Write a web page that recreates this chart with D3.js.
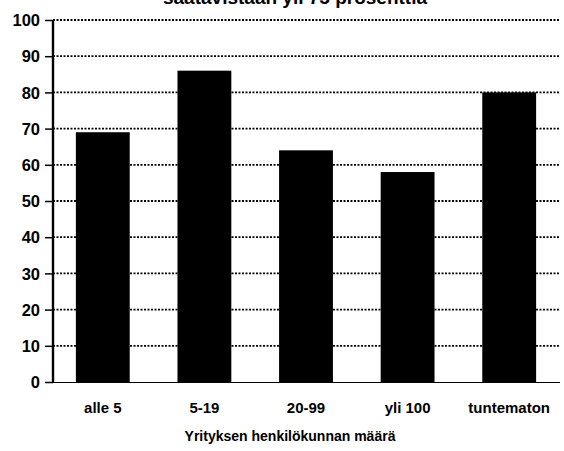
<!DOCTYPE html>
<html><head><meta charset="utf-8">
<script src="https://cdn.jsdelivr.net/npm/d3@7"></script>
<style>
body{margin:0;background:#fff;}
svg{display:block;}
text{font-family:"Liberation Sans",Arial,Helvetica,sans-serif;font-weight:bold;fill:#000;}
</style></head><body>
<svg id="c" width="564" height="451"></svg>
<script>
const categories = ["alle 5", "5-19", "20-99", "yli 100", "tuntematon"];
const values = [69, 86, 64, 58, 80];
const yTicks = [0, 10, 20, 30, 40, 50, 60, 70, 80, 90, 100];
const titleText = "saatavistaan yli 75 prosenttia";
const xTitle = "Yrityksen henkilökunnan määrä";

const svg = d3.select("#c");
const axisX = 53;
const x = d3.scaleBand().domain(categories).range([52, 560]).paddingInner(0.47).paddingOuter(0.235);
const y = d3.scaleLinear().domain([0, 100]).range([382, 20]);

// title (cut off at top, as in the reference)
svg.append("text").attr("x", 295).attr("y", 4).attr("text-anchor", "middle")
  .style("font-size", "19px").text(titleText);

// gridlines
svg.append("g").selectAll("line").data(yTicks.filter(d => d > 0)).join("line")
  .attr("x1", axisX).attr("x2", 560)
  .attr("y1", d => y(d)).attr("y2", d => y(d))
  .attr("stroke", "#000").attr("stroke-width", 1.8).attr("stroke-dasharray", "2,1.5");

// bars
svg.append("g").selectAll("rect").data(values).join("rect")
  .attr("x", (d, i) => x(categories[i])).attr("width", x.bandwidth())
  .attr("y", d => y(d)).attr("height", d => y(0) - y(d))
  .attr("fill", "#000");

// y axis
const yAxis = d3.axisLeft(y).tickValues(yTicks).tickSize(8).tickPadding(5).tickFormat(d3.format("d"));
const gy = svg.append("g").attr("transform", `translate(${axisX},0)`).call(yAxis);
gy.select(".domain").remove();
gy.selectAll(".tick line").attr("stroke", "#000").attr("stroke-width", 1.5);
gy.selectAll(".tick text").style("font-size", "16.5px").style("font-family", '"Liberation Sans",Arial,sans-serif').style("font-weight", "bold").attr("dy", "0.35em");
svg.append("line").attr("x1", axisX).attr("x2", axisX).attr("y1", y(100)).attr("y2", y(0) + 1)
  .attr("stroke", "#000").attr("stroke-width", 2.4);

// x axis
const xAxis = d3.axisBottom(x).tickSize(0).tickPadding(20);
const gx = svg.append("g").attr("transform", `translate(0,${y(0)})`).call(xAxis);
gx.select(".domain").remove();
gx.selectAll(".tick text").style("font-size", "15px").style("font-family", '"Liberation Sans",Arial,sans-serif').style("font-weight", "bold");
svg.append("line").attr("x1", axisX - 8).attr("x2", 560).attr("y1", y(0) + 0.5).attr("y2", y(0) + 0.5)
  .attr("stroke", "#000").attr("stroke-width", 1.2);

svg.append("text").attr("x", 290).attr("y", 441).attr("text-anchor", "middle")
  .style("font-size", "14px").text(xTitle);
</script></body></html>
